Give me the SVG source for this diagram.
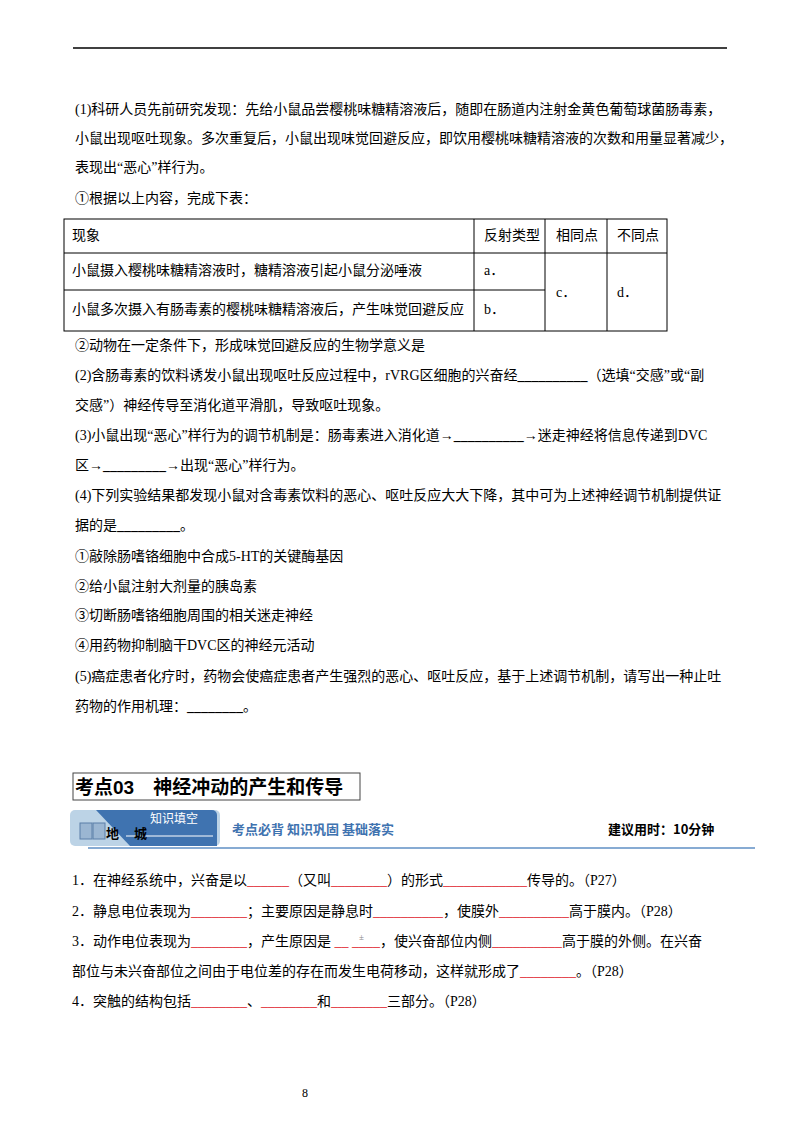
<svg xmlns="http://www.w3.org/2000/svg" width="800" height="1132" viewBox="0 0 800 1132">
<style>
text{font-family:"Liberation Serif","Noto Sans CJK SC",serif;font-size:14px;fill:#000}
.r{fill:#e0202a}
.t{stroke:#000;stroke-width:1;fill:none}
.b{font-weight:bold}
</style>
<rect width="800" height="1132" fill="#fff"/>
<line x1="73" y1="48" x2="727" y2="48" stroke="#000" stroke-width="1.5"/>
<g id="part1">
<text x="75" y="114">(1)科研人员先前研究发现：先给小鼠品尝樱桃味糖精溶液后，随即在肠道内注射金黄色葡萄球菌肠毒素，</text>
<text x="75" y="143">小鼠出现呕吐现象。多次重复后，小鼠出现味觉回避反应，即饮用樱桃味糖精溶液的次数和用量显著减少，</text>
<text x="75" y="172">表现出“恶心”样行为。</text>
<text x="75" y="203">①根据以上内容，完成下表：</text>
</g>
<g id="table">
<rect class="t" x="64" y="219" width="603" height="112"/>
<line class="t" x1="474" y1="219" x2="474" y2="331"/>
<line class="t" x1="545" y1="219" x2="545" y2="331"/>
<line class="t" x1="607" y1="219" x2="607" y2="331"/>
<line class="t" x1="64" y1="253" x2="667" y2="253"/>
<line class="t" x1="64" y1="290" x2="545" y2="290"/>
<text x="72" y="240">现象</text>
<text x="484" y="240">反射类型</text>
<text x="556" y="240">相同点</text>
<text x="617" y="240">不同点</text>
<text x="72" y="275">小鼠摄入樱桃味糖精溶液时，糖精溶液引起小鼠分泌唾液</text>
<text x="484" y="275">a．</text>
<text x="72" y="314">小鼠多次摄入有肠毒素的樱桃味糖精溶液后，产生味觉回避反应</text>
<text x="484" y="314">b．</text>
<text x="556" y="297">c．</text>
<text x="617" y="297">d．</text>
</g>
<g id="part2">
<text x="75" y="350">②动物在一定条件下，形成味觉回避反应的生物学意义是</text>
<text x="75" y="380">(2)含肠毒素的饮料诱发小鼠出现呕吐反应过程中，rVRG区细胞的兴奋经<tspan class="b">__________</tspan>（选填“交感”或“副</text>
<text x="75" y="410">交感”）神经传导至消化道平滑肌，导致呕吐现象。</text>
<text x="75" y="440">(3)小鼠出现“恶心”样行为的调节机制是：肠毒素进入消化道→<tspan class="b">__________</tspan>→迷走神经将信息传递到DVC</text>
<text x="75" y="470">区→<tspan class="b">_________</tspan>→出现“恶心”样行为。</text>
<text x="75" y="500">(4)下列实验结果都发现小鼠对含毒素饮料的恶心、呕吐反应大大下降，其中可为上述神经调节机制提供证</text>
<text x="75" y="530">据的是<tspan class="b">_________</tspan>。</text>
<text x="75" y="561">①敲除肠嗜铬细胞中合成5-HT的关键酶基因</text>
<text x="75" y="591">②给小鼠注射大剂量的胰岛素</text>
<text x="75" y="620">③切断肠嗜铬细胞周围的相关迷走神经</text>
<text x="75" y="650">④用药物抑制脑干DVC区的神经元活动</text>
<text x="75" y="681">(5)癌症患者化疗时，药物会使癌症患者产生强烈的恶心、呕吐反应，基于上述调节机制，请写出一种止吐</text>
<text x="75" y="711">药物的作用机理：<tspan class="b">________</tspan>。</text>
</g>
<g id="section-title">
<rect x="73" y="773" width="287" height="27" fill="none" stroke="#444" stroke-width="1"/>
<text x="75" y="794" style="font-size:19px;font-weight:bold;font-family:'Liberation Sans','Noto Sans CJK SC',sans-serif">考点03　神经冲动的产生和传导</text>
</g>
<g id="banner">
<rect x="70" y="810" width="150" height="36" rx="5" fill="#bcd3e6"/>
<path d="M96 810 H212 a5 5 0 0 1 5 5 V846 H130 Z" fill="#3f73b0"/>
<line x1="126" y1="836" x2="213" y2="836" stroke="#fff" stroke-width="1"/>
<rect x="80" y="823" width="12" height="16" fill="#9bb6d2" stroke="#5b7fa8"/>
<rect x="93" y="823" width="12" height="16" fill="#9bb6d2" stroke="#5b7fa8"/>
<text x="106" y="838" style="font-size:13px;font-weight:bold">地</text>
<text x="134" y="838" style="font-size:13px;font-weight:bold">城</text>
<text x="150" y="823" style="font-size:12px;fill:#fff;font-family:'Noto Sans CJK SC',sans-serif">知识填空</text>
<line x1="88" y1="848" x2="755" y2="848" stroke="#5f8fc4" stroke-width="1.5"/>
<text x="232" y="834" style="font-size:13px;font-weight:bold;fill:#3f73b0;font-family:'Noto Sans CJK SC',sans-serif">考点必背  知识巩固  基础落实</text>
<text x="608" y="834" style="font-size:13px;font-weight:bold;font-family:'Noto Sans CJK SC',sans-serif">建议用时：10分钟</text>
</g>
<g id="part3">
<text x="72" y="885">1．在神经系统中，兴奋是以<tspan class="r">______</tspan>（又叫<tspan class="r">________</tspan>）的形式<tspan class="r">____________</tspan>传导的。（P27）</text>
<text x="72" y="916">2．静息电位表现为<tspan class="r">________</tspan>；主要原因是静息时<tspan class="r">__________</tspan>，使膜外<tspan class="r">__________</tspan>高于膜内。（P28）</text>
<text x="72" y="946">3．动作电位表现为<tspan class="r">________</tspan>，产生原因是 <tspan class="r">__ ____</tspan>，使兴奋部位内侧<tspan class="r">__________</tspan>高于膜的外侧。在兴奋</text>
<text x="359" y="940" style="font-size:9px;fill:#888">±</text>
<text x="72" y="976">部位与未兴奋部位之间由于电位差的存在而发生电荷移动，这样就形成了<tspan class="r">________</tspan>。（P28）</text>
<text x="72" y="1006">4．突触的结构包括<tspan class="r">________</tspan>、<tspan class="r">________</tspan>和<tspan class="r">________</tspan>三部分。（P28）</text>
</g>
<text x="302" y="1097" style="font-size:12px">8</text>
</svg>
